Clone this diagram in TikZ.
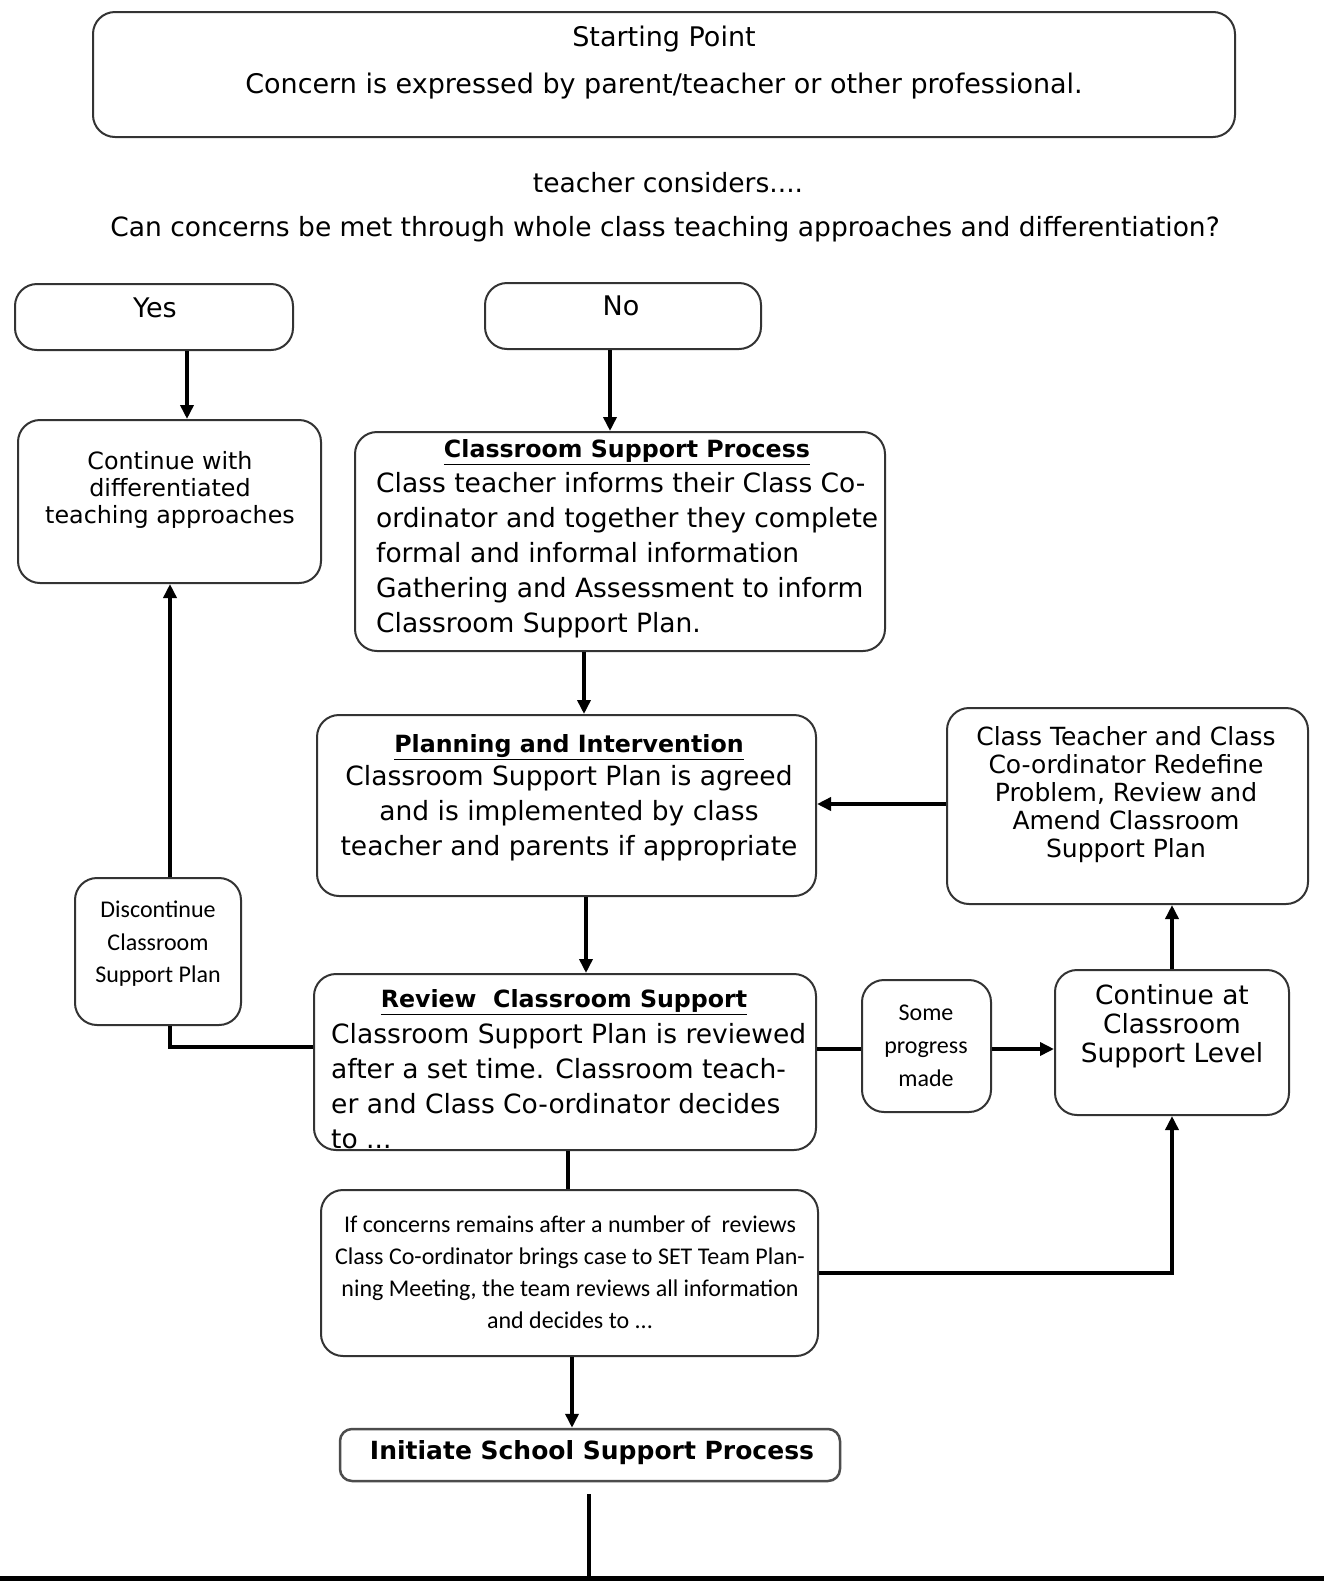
\documentclass[tikz,border=0pt]{standalone}
\usepackage{fontspec}
\setmainfont{DejaVu Sans}
\newfontfamily\calib{Carlito}
\usetikzlibrary{arrows.meta,calc}
\tikzset{
  box/.style={draw=black!80, line width=2pt, rounded corners=22pt, inner sep=0pt, fill=white},
  txt/.style={inner sep=0pt, align=center},
  conn/.style={line width=4pt, black},
  arr/.style={conn, -{Triangle[length=14pt,width=13pt]}},
  fbig/.style={font=\fontsize{26.5}{35}\selectfont},
  ftitle/.style={font=\fontsize{23.7}{30}\selectfont\bfseries},
}
\begin{document}
\begin{tikzpicture}[x=1pt,y=-1pt]
\useasboundingbox (0,0) rectangle (1324,1583);
\fill[white] (0,0) rectangle (1324,1583);

% boxes
\node[box, minimum width=1142pt, minimum height=125pt] (start) at (664,74.5) {};
\node[box, minimum width=278pt, minimum height=66pt] (yes) at (154,317) {};
\node[box, minimum width=276pt, minimum height=66pt] (no) at (623,316) {};
\node[box, minimum width=303pt, minimum height=163pt] (cont) at (169.5,501.5) {};
\node[box, minimum width=530pt, minimum height=219pt] (csp) at (620,541.5) {};
\node[box, minimum width=499pt, minimum height=181pt] (pi) at (566.5,805.5) {};
\node[box, minimum width=361pt, minimum height=196pt] (redef) at (1127.5,806) {};
\node[box, minimum width=502pt, minimum height=176pt] (review) at (565,1062) {};
\node[box, minimum width=166pt, minimum height=147pt] (disc) at (158,951.5) {};
\node[box, minimum width=129pt, minimum height=132pt] (some) at (926.5,1046) {};
\node[box, minimum width=234pt, minimum height=145pt] (contat) at (1172,1042.5) {};
\node[box, minimum width=497pt, minimum height=166pt] (ifc) at (569.5,1273) {};
\node[box, minimum width=500pt, minimum height=52pt, line width=2.5pt, draw=black!70, rounded corners=12pt] (init) at (590,1455) {};

% texts
\node[txt, font=\fontsize{27}{30}\selectfont] (t1) at (664,39) {Starting Point};
\node[txt, font=\fontsize{27}{30}\selectfont] (t2) at (664,86) {Concern is expressed by parent/teacher or other professional.};
\node[txt, font=\fontsize{26.5}{30}\selectfont] (q1) at (668,183) {teacher considers....};
\node[txt, font=\fontsize{26.5}{30}\selectfont] (q2) at (665,229) {Can concerns be met through whole class teaching approaches and differentiation?};
\node[txt, font=\fontsize{27}{30}\selectfont] (tyes) at (155,308) {Yes};
\node[txt, font=\fontsize{27}{30}\selectfont] (tno) at (621,306) {No};
\node[txt, font=\fontsize{23.8}{27}\selectfont] (tcont) at (170,490) {Continue with\\differentiated\\teaching approaches};
\node[txt, ftitle] (tcsp) at (627,452) {\underline{Classroom Support Process}};
\node[txt, align=left, anchor=west, fbig] (bcsp) at (376,555.5) {Class teacher informs their Class Co-\\ordinator and together they complete\\formal and informal information\\Gathering and Assessment to inform\\Classroom Support Plan.};
\node[txt, ftitle] (tpi) at (569,747) {\underline{Planning and Intervention}};
\node[txt, fbig] (bpi) at (569,813.5) {Classroom Support Plan is agreed\\and is implemented by class\\teacher and parents if appropriate};
\node[txt, font=\fontsize{25}{28}\selectfont] (tredef) at (1126,795) {Class Teacher and Class\\Co-ordinator Redefine\\Problem, Review and\\Amend Classroom\\Support Plan};
\node[txt, ftitle] (trev) at (564,1002) {\underline{Review\ \ Classroom Support}};
\node[txt, align=left, anchor=west, fbig] (brev) at (331,1086) {Classroom Support Plan is reviewed\\after a set time. Classroom teach-\\er and Class Co-ordinator decides\\to ...};
\node[txt, font=\calib\fontsize{24}{32.5}\selectfont] (tdisc) at (158,944) {Discontinue\\Classroom\\Support Plan};
\node[txt, font=\calib\fontsize{24}{33}\selectfont] (tsome) at (926,1046) {Some\\progress\\made};
\node[txt, font=\fontsize{26.4}{29}\selectfont] (tcontat) at (1172,1026) {Continue at\\Classroom\\Support Level};
\node[txt, font=\calib\fontsize{24}{32}\selectfont] (tifc) at (570,1272) {If concerns remains after a number of\ \ reviews\\Class Co-ordinator brings case to SET Team Plan-\\ning Meeting, the team reviews all information\\and decides to ...};
\node[txt, font=\fontsize{25}{28}\selectfont\bfseries] (tinit) at (592,1453) {Initiate School Support Process};

% connectors
\draw[arr] ([xshift=33pt]yes.south) -- ([xshift=33pt]yes.south |- cont.north);
\draw[arr] ([xshift=-13pt]no.south) -- ([xshift=-13pt]no.south |- csp.north);
\draw[arr] ([xshift=-36pt]csp.south) -- ([xshift=-36pt]csp.south |- pi.north);
\draw[arr] ([xshift=19.5pt]pi.south) -- ([xshift=19.5pt]pi.south |- review.north);
\draw[arr] ([yshift=2pt]redef.west) -- ([yshift=2pt]redef.west -| pi.east);
\coordinate (dl) at (170,1047);
\draw[conn] (review.west |- dl) -- (dl) -- (dl |- disc.south);
\draw[arr] (dl |- disc.north) -- (dl |- cont.south);
\draw[conn] ([yshift=-3pt]some.west -| review.east) -- ([yshift=-3pt]some.west);
\draw[arr] ([yshift=-3pt]some.east) -- ([yshift=-3pt]some.east -| contat.west);
\draw[arr] (contat.north) -- (contat.north |- redef.south);
\draw[conn] ([xshift=3pt]review.south) -- ([xshift=3pt]review.south |- ifc.north);
\draw[arr] (ifc.east) -| (contat.south);
\draw[arr] ([xshift=2.5pt]ifc.south) -- ([xshift=2.5pt]ifc.south |- init.north);
\coordinate (bot) at (589,1578);
\draw[conn] ([yshift=-12pt]init.south -| bot) -- (bot);
\draw[line width=5pt] (0,1578) -- (1324,1578);
\end{tikzpicture}
\end{document}
